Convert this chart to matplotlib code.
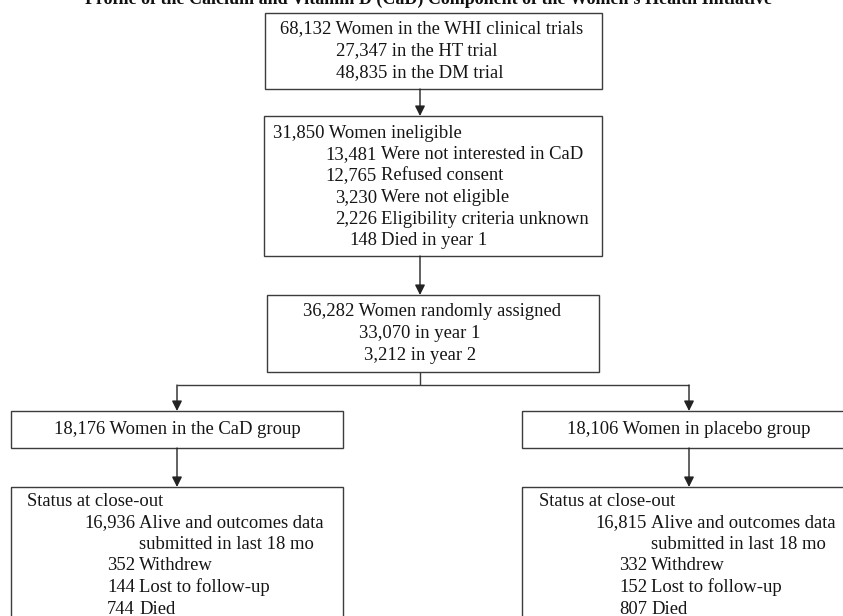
import matplotlib
matplotlib.use("Agg")
import matplotlib.pyplot as plt
from matplotlib.patches import Rectangle

# flowchart text
title = "Profile of the Calcium and Vitamin D (CaD) Component of the Women's Health Initiative"
enrolled_lines = ["68,132 Women in the WHI clinical trials",
                  "27,347 in the HT trial",
                  "48,835 in the DM trial"]
inelig_header = "31,850 Women ineligible"
inelig_counts = ["13,481", "12,765", "3,230", "2,226", "148"]
inelig_reasons = ["Were not interested in CaD", "Refused consent", "Were not eligible",
                  "Eligibility criteria unknown", "Died in year 1"]
random_lines = ["36,282 Women randomly assigned", "33,070 in year 1", "3,212 in year 2"]
group_labels = ["18,176 Women in the CaD group", "18,106 Women in placebo group"]
status_header = "Status at close-out"
status_labels = ["Alive and outcomes data", "submitted in last 18 mo", "Withdrew",
                 "Lost to follow-up", "Died"]
cad_counts = ["16,936", "", "352", "144", "744"]
placebo_counts = ["16,815", "", "332", "152", "807"]

W, H = 843, 616
fig = plt.figure(figsize=(W / 100, H / 100), dpi=100)
ax = fig.add_axes([0, 0, 1, 1])
ax.set_xlim(0, W)
ax.set_ylim(H, 0)
ax.axis("off")

FONT = "Liberation Serif"
FS = 13.4
EDGE = "#3c3c3c"
LW = 1.0


def box(x0, y0, x1, y1):
    ax.add_patch(Rectangle((x0, y0), x1 - x0, y1 - y0, fill=False,
                           edgecolor=EDGE, linewidth=LW, clip_on=False))


def txt(x, y, s, ha="left"):
    ax.text(x, y, s, ha=ha, va="center", fontsize=FS, family=FONT, color="#151515")


def arrow(x, y0, y1):
    ax.annotate("", xy=(x, y1), xytext=(x, y0),
                arrowprops=dict(arrowstyle="-|>,head_length=0.6,head_width=0.3",
                                mutation_scale=10, color="#222222", lw=LW,
                                shrinkA=0, shrinkB=0))


def line(xs, ys):
    ax.plot(xs, ys, color=EDGE, lw=LW, solid_capstyle="butt")


# title (cropped at top, as in the original scan)
ax.text(428.5, 4, title, ha="center", va="baseline", fontsize=13.0,
        fontweight="bold", family=FONT, color="#111111")

# box 1
box(265, 13, 602, 89)
txt(280, 29, enrolled_lines[0])
for i, s in enumerate(enrolled_lines[1:]):
    txt(336, 51 + 21.5 * i, s)
arrow(420, 89, 116)

# box 2
box(264, 116, 602, 256)
txt(273, 133, inelig_header)
for i, (n, r) in enumerate(zip(inelig_counts, inelig_reasons)):
    y = 154.5 + 21.5 * i
    txt(377, y, n, ha="right")
    txt(381, y, r)
arrow(420, 256, 295)

# box 3
box(267, 295, 599, 372)
txt(432, 312, random_lines[0], ha="center")
for i, s in enumerate(random_lines[1:]):
    txt(420, 333.5 + 21.5 * i, s, ha="center")

# split into the two arms
line([420, 420], [372, 385])
line([177, 689], [385, 385])
centers = [177, 689]
group_boxes = [(11, 343), (522, 856)]
for cx, (x0, x1), lab in zip(centers, group_boxes, group_labels):
    arrow(cx, 385, 411)
    box(x0, 411, x1, 448)
    txt(cx, 430, lab, ha="center")
    arrow(cx, 448, 487)
    box(x0, 487, x1, 640)

# status boxes
for (hx, nx), counts in zip([(27, 135), (539, 647)], [cad_counts, placebo_counts]):
    txt(hx, 502, status_header)
    for i, (n, s) in enumerate(zip(counts, status_labels)):
        y = 523 + 21.5 * i
        if n:
            txt(nx, y, n, ha="right")
        txt(nx + 4, y, s)

fig.savefig("out.png", dpi=100)
